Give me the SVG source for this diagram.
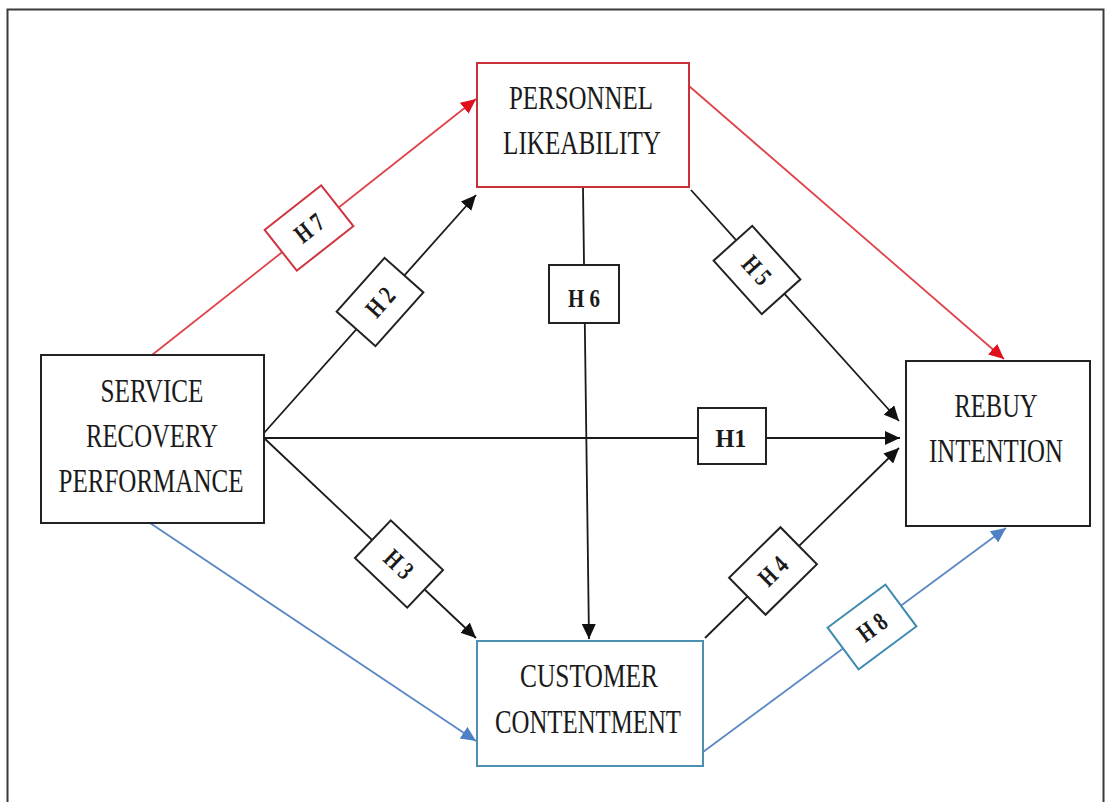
<svg xmlns="http://www.w3.org/2000/svg" width="1112" height="802" viewBox="0 0 1112 802">
  <defs>
    <marker id="arrow-black" markerUnits="userSpaceOnUse" markerWidth="16" markerHeight="14" refX="15" refY="7" orient="auto">
      <path d="M0,0 L15,7 L0,14 z" fill="#111"/>
    </marker>
    <marker id="arrow-red" markerUnits="userSpaceOnUse" markerWidth="16" markerHeight="14" refX="15" refY="7" orient="auto">
      <path d="M0,0 L15,7 L0,14 z" fill="#e0101c"/>
    </marker>
    <marker id="arrow-blue" markerUnits="userSpaceOnUse" markerWidth="16" markerHeight="14" refX="15" refY="7" orient="auto">
      <path d="M0,0 L15,7 L0,14 z" fill="#4f7fc4"/>
    </marker>
  </defs>
  <style>
    .frame { fill: #fff; stroke: #3a3a3a; stroke-width: 2; }
    .node { fill: #fff; stroke: #222; stroke-width: 2; }
    .node-red { fill: #fff; stroke: #c8303a; stroke-width: 2; }
    .node-blue { fill: #fff; stroke: #4d8fb0; stroke-width: 2; }
    .title { font-family: "Liberation Serif", "Times New Roman", serif; font-size: 33px; fill: #1a1a1a; text-anchor: middle; }
    .conn { fill: none; stroke: #1a1a1a; stroke-width: 1.8; marker-end: url(#arrow-black); }
    .conn-red { fill: none; stroke: #e0424a; stroke-width: 1.8; marker-end: url(#arrow-red); }
    .conn-blue { fill: none; stroke: #5b88c4; stroke-width: 1.8; marker-end: url(#arrow-blue); }
    .tag { fill: #fff; stroke: #222; stroke-width: 2; }
    .tag-red { fill: #fff; stroke: #d0343e; stroke-width: 2; }
    .tag-blue { fill: #fff; stroke: #3f8bb0; stroke-width: 2; }
    .tag-text { font-family: "Liberation Serif", "Times New Roman", serif; font-size: 26px; font-weight: bold; fill: #1a1a1a; text-anchor: middle; }
  </style>

  <!-- outer frame -->
  <rect class="frame" x="7.5" y="9.5" width="1096" height="800"/>

  <!-- connectors -->
  <g id="connectors">
    <line class="conn-red" x1="152" y1="355" x2="476" y2="99"/>
    <line class="conn" x1="264" y1="433" x2="476" y2="195"/>
    <line class="conn" x1="264" y1="438" x2="900" y2="438"/>
    <line class="conn" x1="264" y1="438" x2="476" y2="638"/>
    <line class="conn-blue" x1="150" y1="523" x2="476" y2="741"/>
    <line class="conn-red" x1="689" y1="86" x2="1004" y2="359"/>
    <line class="conn" x1="691" y1="190" x2="899" y2="421"/>
    <line class="conn" x1="583" y1="188" x2="589" y2="639"/>
    <line class="conn" x1="705" y1="638" x2="899" y2="448"/>
    <line class="conn-blue" x1="703" y1="752" x2="1006" y2="528"/>

    <!-- hypothesis tags -->
    <g id="tag-h7" transform="translate(309 228) rotate(-38.2)">
      <rect class="tag-red" x="-36" y="-26" width="72" height="52"/>
      <text class="tag-text" x="0" y="9" textLength="30" lengthAdjust="spacingAndGlyphs">H 7</text>
    </g>
    <g id="tag-h2" transform="translate(380 302) rotate(-48.3)">
      <rect class="tag" x="-36" y="-26" width="72" height="52"/>
      <text class="tag-text" x="0" y="9" textLength="30" lengthAdjust="spacingAndGlyphs">H 2</text>
    </g>
    <g id="tag-h1">
      <rect class="tag" x="698" y="408" width="68" height="56"/>
      <text class="tag-text" x="731" y="447" font-size="28" textLength="31" lengthAdjust="spacingAndGlyphs">H1</text>
    </g>
    <g id="tag-h6">
      <rect class="tag" x="549" y="265" width="70" height="58"/>
      <text class="tag-text" x="584" y="307" font-size="28" textLength="32" lengthAdjust="spacingAndGlyphs">H 6</text>
    </g>
    <g id="tag-h5" transform="translate(757 270) rotate(48)">
      <rect class="tag" x="-36" y="-26" width="72" height="52"/>
      <text class="tag-text" x="0" y="9" textLength="30" lengthAdjust="spacingAndGlyphs">H 5</text>
    </g>
    <g id="tag-h3" transform="translate(399 564) rotate(43.5)">
      <rect class="tag" x="-36" y="-26" width="72" height="52"/>
      <text class="tag-text" x="0" y="9" textLength="30" lengthAdjust="spacingAndGlyphs">H 3</text>
    </g>
    <g id="tag-h4" transform="translate(773 571) rotate(-44.5)">
      <rect class="tag" x="-36" y="-26" width="72" height="52"/>
      <text class="tag-text" x="0" y="9" textLength="30" lengthAdjust="spacingAndGlyphs">H 4</text>
    </g>
    <g id="tag-h8" transform="translate(872 627) rotate(-36.6)">
      <rect class="tag-blue" x="-36" y="-26" width="72" height="52"/>
      <text class="tag-text" x="0" y="9" textLength="30" lengthAdjust="spacingAndGlyphs">H 8</text>
    </g>
  </g>

  <!-- constructs -->
  <g id="service-recovery-performance">
    <rect class="node" x="41" y="355" width="223" height="168"/>
    <text class="title" x="152" y="402" textLength="103" lengthAdjust="spacingAndGlyphs">SERVICE</text>
    <text class="title" x="152" y="447" textLength="132" lengthAdjust="spacingAndGlyphs">RECOVERY</text>
    <text class="title" x="151" y="492" textLength="185" lengthAdjust="spacingAndGlyphs">PERFORMANCE</text>
  </g>

  <g id="personnel-likeability">
    <rect class="node-red" x="477" y="63" width="212" height="124"/>
    <text class="title" x="581" y="109" textLength="144" lengthAdjust="spacingAndGlyphs">PERSONNEL</text>
    <text class="title" x="582" y="154" textLength="158" lengthAdjust="spacingAndGlyphs">LIKEABILITY</text>
  </g>

  <g id="customer-contentment">
    <rect class="node-blue" x="477" y="641" width="226" height="125"/>
    <text class="title" x="589" y="687" textLength="138" lengthAdjust="spacingAndGlyphs">CUSTOMER</text>
    <text class="title" x="588" y="733" textLength="186" lengthAdjust="spacingAndGlyphs">CONTENTMENT</text>
  </g>

  <g id="rebuy-intention">
    <rect class="node" x="906" y="361" width="184" height="165"/>
    <text class="title" x="996" y="417" textLength="83" lengthAdjust="spacingAndGlyphs">REBUY</text>
    <text class="title" x="996" y="462" textLength="134" lengthAdjust="spacingAndGlyphs">INTENTION</text>
  </g>
</svg>
